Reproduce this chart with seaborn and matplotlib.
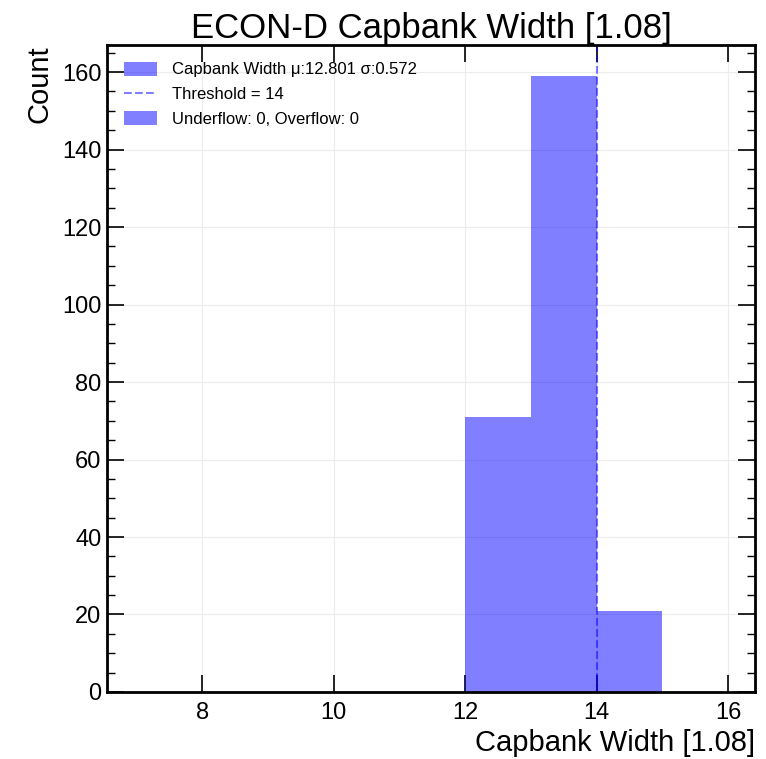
import numpy as np
import pandas as pd
import seaborn as sns
import matplotlib
matplotlib.use("Agg")
import matplotlib.pyplot as plt
from matplotlib.patches import Patch
from matplotlib.lines import Line2D
from matplotlib.ticker import MultipleLocator

# Histogram contents
bin_edges = [12, 13, 14, 15]
bin_centers = [12.5, 13.5, 14.5]
bin_counts = [71, 159, 21]
threshold = 14
mean_val = 12.801
std_val = 0.572
underflow = 0
overflow = 0

title = "ECON-D Capbank Width [1.08]"
xlabel = "Capbank Width [1.08]"
ylabel = "Count"

sns.set_theme(style="white")
plt.rcParams["font.family"] = ["Liberation Sans", "DejaVu Sans"]
plt.rcParams["text.color"] = "black"
plt.rcParams["axes.labelcolor"] = "black"

fig = plt.figure(figsize=(7.66, 7.59), dpi=100)
ax = fig.add_axes([0.1397, 0.0883, 0.8459, 0.8524])

df = pd.DataFrame({"x": bin_centers, "w": bin_counts})
sns.histplot(data=df, x="x", weights="w", bins=bin_edges, color="blue",
             alpha=0.5, linewidth=0, ax=ax)
ax.axvline(threshold, color="blue", alpha=0.5, linestyle="--", linewidth=1.5)

ax.set_xlim(6.55, 16.41)
ax.set_ylim(0, 167)
ax.xaxis.set_major_locator(MultipleLocator(2))
ax.yaxis.set_major_locator(MultipleLocator(20))
ax.yaxis.set_minor_locator(MultipleLocator(5))

ax.grid(True, which="major", color="#ececec", linewidth=0.8)
ax.set_axisbelow(True)
for s in ax.spines.values():
    s.set_linewidth(2)
    s.set_color("black")

ax.tick_params(which="both", direction="in", top=True, right=True,
               bottom=True, left=True, labelsize=17, colors="black")
ax.tick_params(axis="x", which="major", length=12, width=1.2, pad=7)
ax.tick_params(axis="y", which="major", length=12, width=1.2, pad=4)
ax.tick_params(which="minor", length=6, width=1)

ax.set_title(title, fontsize=25, pad=3, color="black")
ax.set_xlabel(xlabel, fontsize=21, loc="right", labelpad=4)
ax.set_ylabel(ylabel, fontsize=21, loc="top", labelpad=6)

handles = [
    Patch(facecolor="blue", alpha=0.5, edgecolor="none"),
    Line2D([], [], color="blue", alpha=0.5, linestyle="--", linewidth=1.5),
    Patch(facecolor="blue", alpha=0.5, edgecolor="none"),
]
labels = [
    f"Capbank Width \u03bc:{mean_val:.3f} \u03c3:{std_val:.3f}",
    f"Threshold = {threshold}",
    f"Underflow: {underflow}, Overflow: {overflow}",
]
ax.legend(handles, labels, loc="upper left", frameon=False, fontsize=12,
          handlelength=2.0, handleheight=0.9, labelspacing=0.55,
          borderaxespad=0.6, handletextpad=0.9, labelcolor="black")

fig.savefig("out.png", dpi=100)
